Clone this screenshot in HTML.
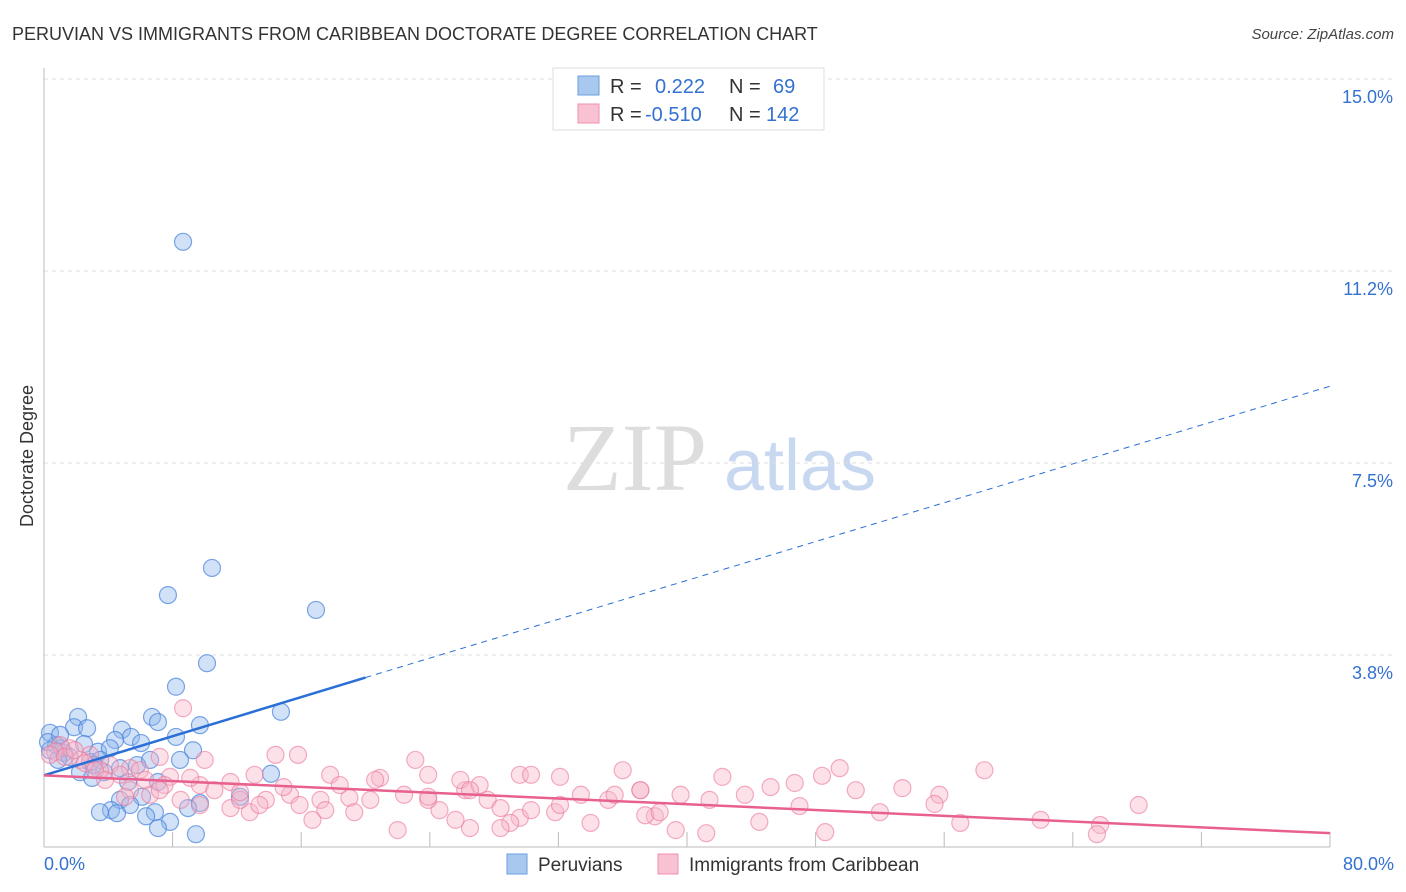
<!DOCTYPE html>
<html><head><meta charset="utf-8"><style>
body{margin:0;background:#fff;font-family:"Liberation Sans",sans-serif;}
svg{display:block}
</style></head><body>
<svg id="chart" width="1406" height="892" xmlns="http://www.w3.org/2000/svg">
<text x="12" y="40" font-size="18" fill="#333">PERUVIAN VS IMMIGRANTS FROM CARIBBEAN DOCTORATE DEGREE CORRELATION CHART</text>
<text x="1394" y="39" font-size="15" fill="#444" text-anchor="end" font-style="italic">Source: ZipAtlas.com</text>
<text transform="translate(33,456) rotate(-90)" font-size="18" fill="#333" text-anchor="middle">Doctorate Degree</text>
<g><text x="635" y="490" font-size="96" fill="#ddd" font-family="Liberation Serif" text-anchor="middle">ZIP</text><text x="800" y="490" font-size="72" fill="#c8d8f0" text-anchor="middle">atlas</text></g>
<g id="grid"></g><g id="pts"></g><g id="lines"></g>
<g>
<rect x="553" y="68" width="271" height="62" fill="#fff" stroke="#ddd"/>
<rect x="578" y="76" width="21" height="19" fill="#a9c8f0" stroke="#6a9ee0"/>
<rect x="578" y="104" width="21" height="19" fill="#f9c2d2" stroke="#ee90ac"/>
<text x="610" y="93" font-size="20" fill="#333">R =</text><text x="655" y="93" font-size="20" fill="#3471d0">0.222</text>
<text x="729" y="93" font-size="20" fill="#333">N =</text><text x="773" y="93" font-size="20" fill="#3471d0">69</text>
<text x="610" y="121" font-size="20" fill="#333">R =</text><text x="645" y="121" font-size="20" fill="#3471d0">-0.510</text>
<text x="729" y="121" font-size="20" fill="#333">N =</text><text x="766" y="121" font-size="20" fill="#3471d0">142</text>
</g>
<g>
<rect x="507" y="854" width="20" height="20" fill="#a9c8f0" stroke="#6a9ee0"/><text x="538" y="871" font-size="19" fill="#333">Peruvians</text>
<rect x="658" y="854" width="20" height="20" fill="#f9c2d2" stroke="#ee90ac"/><text x="689" y="871" font-size="19" fill="#333">Immigrants from Caribbean</text>
</g>
</svg>
<script>
const yTicks=[3.75,7.5,11.25,15];
const yTickLabels=["3.8%","7.5%","11.2%","15.0%"];
const xTickLabels=["0.0%","80.0%"];
const blueX=[8.65,10.45,7.71,16.92,10.14,8.21,14.74,6.72,2.12,7.09,4.85,1.87,2.68,9.7,0.37,8.21,5.41,4.42,6.04,0.75,9.27,3.36,1.24,0.37,8.46,2.86,5.79,4.73,3.73,2.24,14.12,2.99,7.09,5.23,12.19,6.1,4.73,5.35,9.7,8.96,4.17,3.48,4.54,6.9,6.35,7.84,7.09,9.45,1.1,1.6,0.87,0.25,2.49,4.1,3.5,3.1,6.6,1.0];
const blueY=[11.82,5.45,4.92,4.63,3.59,3.13,2.64,2.54,2.54,2.44,2.29,2.34,2.32,2.38,2.23,2.15,2.15,2.09,2.03,1.99,1.89,1.86,1.84,1.89,1.70,1.66,1.60,1.54,1.46,1.46,1.43,1.35,1.27,1.27,0.98,0.98,0.92,0.82,0.86,0.76,0.72,0.68,0.66,0.68,0.6,0.49,0.37,0.25,1.93,1.76,1.70,2.05,2.01,1.93,1.7,1.6,1.7,2.19];
const pinkX=[8.65,1.0,1.6,2.86,4.1,5.35,7.2,10.0,14.4,15.8,23.1,17.8,20.9,23.9,29.6,32.1,36.0,42.2,49.5,48.4,58.5,45.2,46.7,53.4,50.5,55.7,43.6,39.6,37.1,33.4,35.1,41.4,47.0,55.4,68.1,52.0,57.0,62.0,65.7,65.5,48.6,44.5,41.2,39.3,38.0,37.4,34.0,31.8,29.6,29.0,28.4,26.5,25.6,24.6,22.0,16.7,12.8,11.6,9.7,8.5,6.6,5.35,12.2,13.8,15.3,17.2,19.0,20.3,22.4,23.9,26.2,27.6,28.4,30.3,32.1,35.5,14.9,18.4,13.1,11.6,9.7,7.84,5.96,4.73,3.48,2.24,0.7,0.37,1.3,1.9,2.55,3.17,3.8,6.3,7.5,9.1,10.6,13.4,15.9,17.5,19.3,20.6,25.9,27.1,30.3,37.1,38.3,26.5,23.9,5.04,7.2,12.2];
const pinkY=[2.71,1.99,1.93,1.80,1.6,1.54,1.76,1.70,1.80,1.80,1.70,1.41,1.35,1.41,1.41,1.37,1.50,1.37,1.54,1.39,1.50,1.17,1.25,1.15,1.11,1.02,1.02,1.02,1.11,1.02,0.92,0.92,0.80,0.84,0.82,0.68,0.47,0.53,0.43,0.25,0.29,0.49,0.27,0.33,0.6,0.62,0.47,0.68,0.57,0.47,0.37,0.37,0.53,0.72,0.33,0.53,0.68,0.76,0.82,0.92,1.02,1.11,0.92,0.92,1.02,0.92,0.96,0.92,1.02,0.92,1.11,0.92,0.76,0.72,0.82,1.02,1.17,1.21,1.41,1.27,1.21,1.37,1.50,1.41,1.50,1.70,1.86,1.80,1.76,1.89,1.64,1.50,1.31,1.31,1.21,1.35,1.11,0.82,0.82,0.72,0.68,1.31,1.31,1.21,1.41,1.11,0.68,1.11,0.98,0.98,1.11,1.07];
const blueTrend=[1.40,3.31,9.0];
const pinkTrend=[1.40,0.27];
const NS="http://www.w3.org/2000/svg";
const X=v=>44+v/80*1286, Y=v=>847-v/3.75*192;
function mk(p,t,a){const e=document.createElementNS(NS,t);for(const k in a)e.setAttribute(k,a[k]);p.appendChild(e);return e;}
const grid=document.getElementById('grid');
yTicks.forEach((t,i)=>{
 const l=mk(grid,'line',{x1:44,x2:1394,y1:Y(t),y2:Y(t),stroke:'#ddd','stroke-dasharray':'4,4'});
 
 
 const tx=mk(grid,'text',{x:1393,y:Y(t)+24,'font-size':18,fill:'#3471d0','text-anchor':'end'});
 tx.textContent=yTickLabels[i];
 
 
});
const ax=mk(grid,'line',{x1:44,x2:1330,y1:847,y2:847,stroke:'#bbb'});


const ay=mk(grid,'line',{x1:44,x2:44,y1:68,y2:847,stroke:'#bbb'});


for(let i=1;i<=10;i++){const t=mk(grid,'line',{x1:X(i*8),x2:X(i*8),y1:832,y2:847,stroke:'#bbb'});
 
 }
[[0,'start',44],[80,'end',1394]].forEach((d,i)=>{const t=mk(grid,'text',{x:d[2],y:870,'font-size':18,fill:'#3471d0','text-anchor':d[1]});t.textContent=xTickLabels[i];
 
 });
const pts=document.getElementById('pts');
blueX.forEach((v,i)=>{const c=mk(pts,'circle',{cx:X(v),cy:Y(blueY[i]),r:8.5,fill:'rgba(140,180,235,0.4)',stroke:'rgba(70,130,220,0.7)','stroke-width':1.2});
 
 });
pinkX.forEach((v,i)=>{const c=mk(pts,'circle',{cx:X(v),cy:Y(pinkY[i]),r:8.5,fill:'rgba(248,180,200,0.4)',stroke:'rgba(235,120,155,0.6)','stroke-width':1.2});
 
 });
const lines=document.getElementById('lines');
const bs=mk(lines,'line',{x1:X(0),y1:Y(blueTrend[0]),x2:X(20),y2:Y(blueTrend[1]),stroke:'#2a6fd6','stroke-width':2.5});


const bd=mk(lines,'line',{x1:X(20),y1:Y(blueTrend[1]),x2:X(80),y2:Y(blueTrend[2]),stroke:'#2a6fd6','stroke-width':1,'stroke-dasharray':'6,5'});


const pl=mk(lines,'line',{x1:X(0),y1:Y(pinkTrend[0]),x2:X(80),y2:Y(pinkTrend[1]),stroke:'#e8608e','stroke-width':2.5});


</script>
</body></html>
